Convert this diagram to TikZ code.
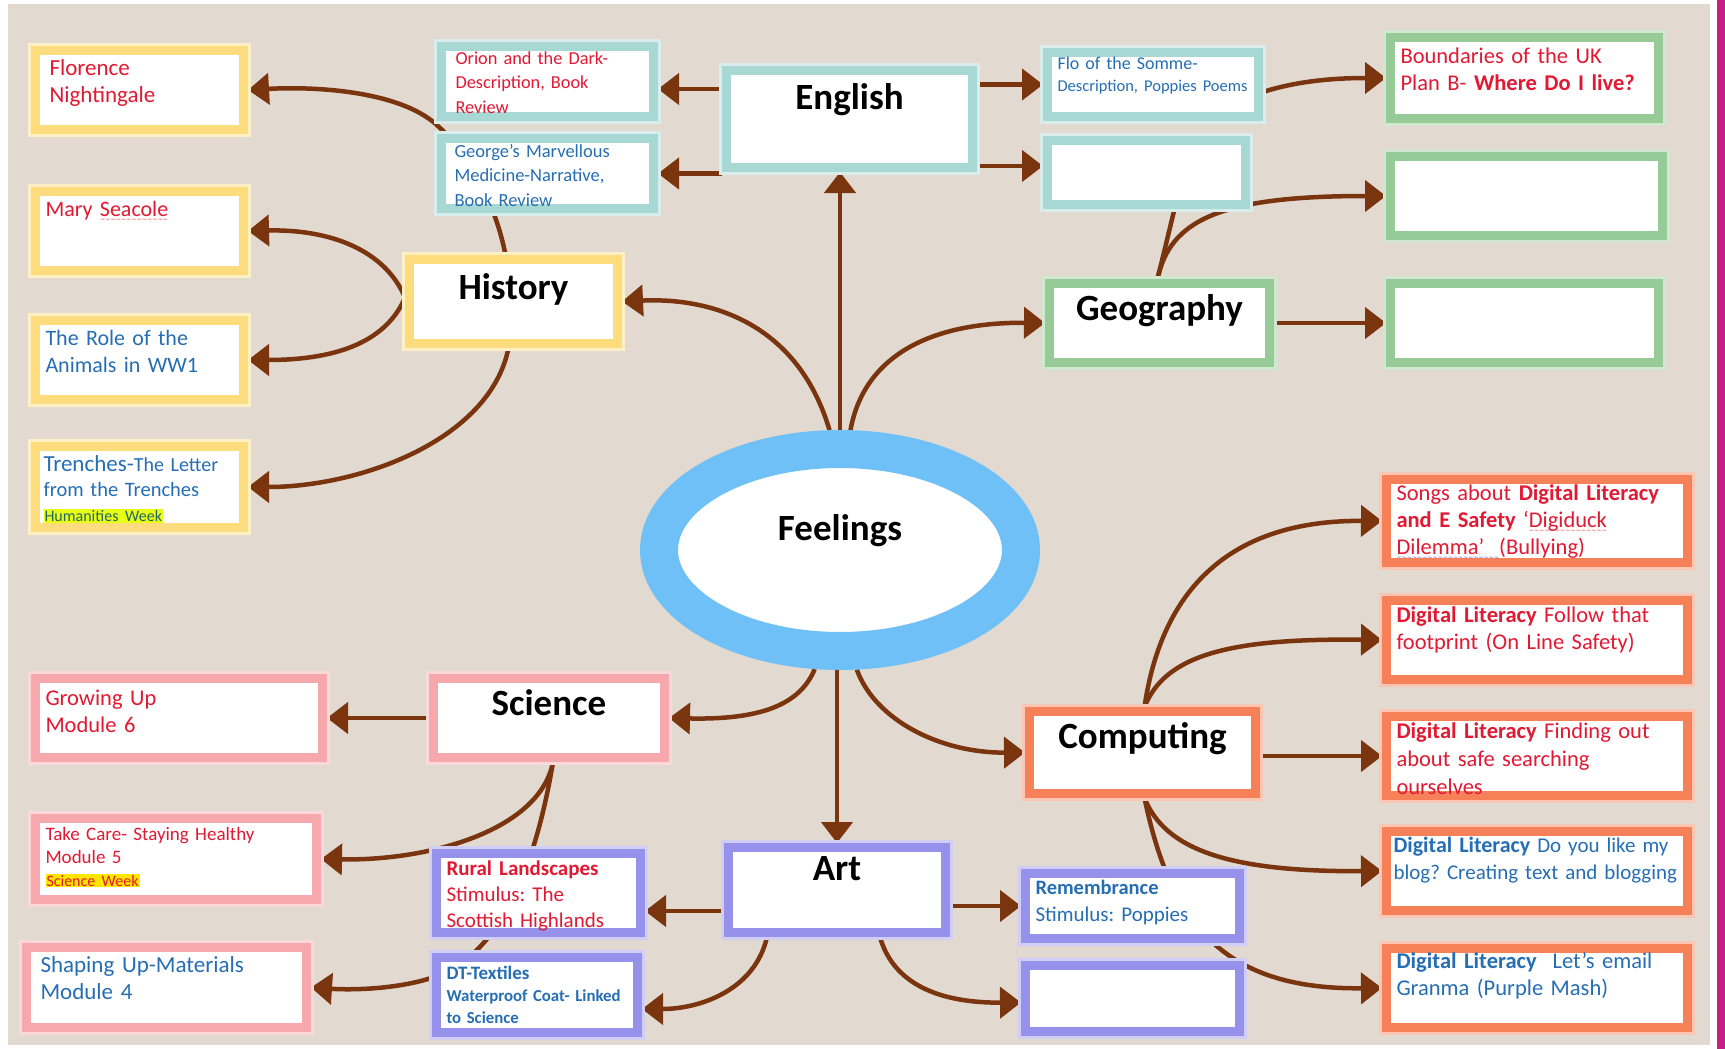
\documentclass[tikz,border=0pt]{standalone}
\usepackage{fontspec}
\setmainfont{Carlito}
\newfontfamily\wavefont{DejaVu Sans}
\usepackage{tikz}
\usetikzlibrary{arrows.meta, calc, positioning, shapes.geometric, backgrounds}
\definecolor{paper}{RGB}{226,218,208}
\definecolor{sidebar}{RGB}{200,30,130}
\definecolor{histyellow}{RGB}{252,220,125}
\definecolor{engteal}{RGB}{168,216,212}
\definecolor{geogreen}{RGB}{150,202,150}
\definecolor{scipink}{RGB}{246,168,172}
\definecolor{artpurple}{RGB}{150,146,236}
\definecolor{comporange}{RGB}{246,128,88}
\definecolor{ringblue}{RGB}{110,192,246}
\definecolor{arrowbrown}{RGB}{122,52,14}
\definecolor{redtxt}{RGB}{225,25,50}
\definecolor{bluetxt}{RGB}{38,110,180}
\definecolor{hitext}{RGB}{35,100,110}
\definecolor{hilime}{RGB}{232,255,20}
\definecolor{hiyellow}{RGB}{255,230,0}
\definecolor{spellred}{RGB}{230,40,40}
\definecolor{spellblue}{RGB}{80,80,200}
\setlength{\fboxsep}{1pt}
\frenchspacing
\hyphenpenalty=10000
\newsavebox{\wavebox}
\newcommand{\spellwave}[2]{\mbox{\sbox{\wavebox}{#2}\rlap{\smash{\textcolor{#1}{\raisebox{-4.5pt}{\hbox to \wd\wavebox{\wavefont\fontsize{6}{6}\selectfont\xleaders\hbox{\char"7E}\hfil}}}}}\usebox{\wavebox}}}
\tikzstyle{leaf} = [rectangle, fill=white, line width=9pt, inner xsep=10pt, inner ysep=5pt, align=left]
\tikzstyle{topic} = [rectangle, fill=white, line width=9pt, inner xsep=7pt, inner ysep=5pt, align=center, font=\fontsize{37}{42}\selectfont\bfseries]
\tikzstyle{arrow} = [line width=4.5pt, draw=arrowbrown, -{Triangle[length=21pt, width=31pt]}]
\tikzstyle{link} = [line width=4.5pt, draw=arrowbrown]
\tikzset{rim/.style={draw=#1, preaction={draw=#1!45, line width=15pt}}}

\begin{document}
\begin{tikzpicture}[x=1pt, y=-1pt]
	\useasboundingbox (0,0) rectangle (1725,1049);
	\node (Feelings) [ellipse, draw=ringblue, line width=38pt, fill=white, minimum width=362pt, minimum height=202pt, inner sep=0pt, font=\fontsize{37}{42}\selectfont\bfseries, text height=26pt, text depth=46pt] at (840,550) {Feelings};
	% History
	\node (History) [topic, rim=histyellow, text width=194pt, text height=34.5pt, text depth=39.5pt] at (513.5,301.5) {History};
	\node (Florence) [leaf, rim=histyellow, text=redtxt, font=\fontsize{23}{27}\selectfont, inner xsep=14pt, text width=180pt, text height=20pt, text depth=49pt] at (139.5,90) {Florence\\Nightingale};
	\node (Mary) [leaf, rim=histyellow, text=redtxt, font=\fontsize{22}{27}\selectfont, text width=188pt, text height=20pt, text depth=49pt] at (139.5,231) {Mary \spellwave{spellred}{Seacole}};
	\node (Role) [leaf, rim=histyellow, text=bluetxt, font=\fontsize{22}{27}\selectfont, text width=188pt, text height=20pt, text depth=49pt] at (139.5,360) {The Role of the\\Animals in WW1};
	\node (Trenches) [leaf, rim=histyellow, text=bluetxt, font=\fontsize{20}{25}\selectfont, inner xsep=8pt, text width=192pt, text height=20pt, text depth=51pt] at (139.5,487) {{\fontsize{23}{25}\selectfont Trenches-}The Letter\\{\fontsize{20.5}{25}\selectfont from the Trenches}\\{\fontsize{16}{25}\selectfont\color{hitext}\colorbox{hilime}{Humanities Week}}};
	% English
	\node (English) [topic, rim=engteal, text width=232pt, text height=34.5pt, text depth=52.5pt] at (849.5,119) {English};
	\node (Orion) [leaf, rim=engteal, text=redtxt, font=\fontsize{18.3}{24.5}\selectfont, inner xsep=14pt, text width=184pt, text height=13pt, text depth=47pt] at (547.5,81.5) {Orion and the Dark-\\Description, Book\\Review};
	\node (George) [leaf, rim=engteal, text=bluetxt, font=\fontsize{18.5}{24.5}\selectfont, inner xsep=13pt, text width=186pt, text height=13.5pt, text depth=46.5pt] at (547.5,173.5) {George's Marvellous\\Medicine-Narrative,\\Book Review};
	\node (Flo) [leaf, rim=engteal, text=bluetxt, font=\fontsize{18}{22}\selectfont, text width=191pt, text height=12pt, text depth=42pt] at (1153,84.5) {Flo of the Somme-\\{\fontsize{16.5}{22}\selectfont Description, Poppies Poems}};
	\node (TealBlank) [leaf, rim=engteal, minimum width=198pt, minimum height=64pt] at (1146.5,172.5) {};
	% Geography
	\node (Geography) [topic, rim=geogreen, text width=206pt, text height=31.5pt, text depth=37.5pt] at (1159.5,323) {Geography};
	\node (Boundaries) [leaf, rim=geogreen, text=redtxt, font=\fontsize{22.5}{27}\selectfont, text width=248pt, text height=21pt, text depth=50pt] at (1524.5,78) {Boundaries of the UK\\Plan B- \textbf{Where Do I live?}};
	\node (GreenMid) [leaf, rim=geogreen, minimum width=272pt, minimum height=79pt] at (1526.5,196) {};
	\node (GreenLow) [leaf, rim=geogreen, minimum width=268pt, minimum height=79pt] at (1524.5,323) {};
	% Computing
	\node (Computing) [topic, rim=comporange, text width=212pt, text height=31.5pt, text depth=40.5pt] at (1142.5,752.5) {Computing};
	\node (Songs) [leaf, rim=comporange, text=redtxt, font=\fontsize{22.5}{27}\selectfont, text width=281pt, text height=16pt, text depth=57pt] at (1537,521) {Songs about \textbf{Digital Literacy}\\\textbf{and E Safety} `\spellwave{spellred}{Digiduck}\\\spellwave{spellblue}{Dilemma'\ \ }(Bullying)};
	\node (Footprint) [leaf, rim=comporange, text=redtxt, font=\fontsize{22.5}{27}\selectfont, text width=281pt, text height=17pt, text depth=52pt] at (1537,640) {\textbf{Digital Literacy} Follow that\\footprint (On Line Safety)};
	\node (Searching) [leaf, rim=comporange, text=redtxt, font=\fontsize{22.5}{28}\selectfont, text width=281pt, text height=16.5pt, text depth=52.5pt] at (1537,756) {\textbf{Digital Literacy} Finding out\\about safe searching\\ourselves};
	\node (Blog) [leaf, rim=comporange, text=bluetxt, font=\fontsize{21}{27}\selectfont, inner xsep=7pt, text width=287pt, text height=16pt, text depth=53pt] at (1537,871) {{\fontsize{22}{27}\selectfont\bfseries Digital Literacy} Do you like my\\blog? Creating text and blogging};
	\node (Email) [leaf, rim=comporange, text=bluetxt, font=\fontsize{22.5}{27}\selectfont, text width=281pt, text height=14.5pt, text depth=54.5pt] at (1537,988) {\textbf{Digital Literacy}\hspace{16pt}Let's email\\Granma (Purple Mash)};
	% Science
	\node (Science) [topic, rim=scipink, text width=217pt, text height=31.5pt, text depth=37.5pt] at (549,718) {Science};
	\node (Growing) [leaf, rim=scipink, text=redtxt, font=\fontsize{22.5}{27}\selectfont, text width=267pt, text height=21.5pt, text depth=47.5pt] at (179,718) {Growing Up\\Module 6};
	\node (TakeCare) [leaf, rim=scipink, text=redtxt, font=\fontsize{19}{23}\selectfont, text width=261pt, text height=16.5pt, text depth=54.5pt] at (176,859) {Take Care- Staying Healthy\\Module 5\\{\fontsize{16}{23}\selectfont\colorbox{hiyellow}{Science Week}}};
	\node (Shaping) [leaf, rim=scipink, text=bluetxt, font=\fontsize{23}{27}\selectfont, inner xsep=14pt, text width=252pt, text height=19.5pt, text depth=50.5pt] at (166.5,987.5) {Shaping Up-Materials\\Module 4};
	% Art
	\node (Art) [topic, rim=artpurple, text width=203pt, text height=27.5pt, text depth=47.5pt] at (837,890) {Art};
	\node (Rural) [leaf, rim=artpurple, text=redtxt, font=\fontsize{21}{26}\selectfont, text width=184pt, text height=17pt, text depth=52pt] at (538.5,893) {\textbf{Rural Landscapes}\\Stimulus: The\\Scottish Highlands};
	\node (Textiles) [leaf, rim=artpurple, text=bluetxt, font=\fontsize{16.8}{22}\selectfont\bfseries, text width=181pt, text height=16.5pt, text depth=48.5pt] at (537,995) {{\fontsize{19}{22}\selectfont DT-Textiles}\\Waterproof Coat- Linked\\to Science};
	\node (Remembrance) [leaf, rim=artpurple, text=bluetxt, font=\fontsize{21}{27}\selectfont, text width=194pt, text height=15.5pt, text depth=39.5pt] at (1132.5,906) {{\fontsize{20.5}{27}\selectfont\bfseries Remembrance}\\Stimulus: Poppies};
	\node (PurpleBlank) [leaf, rim=artpurple, minimum width=214pt, minimum height=66pt] at (1132.5,998.5) {};

	\begin{scope}[on background layer]
		\fill[white] (0,0) rectangle (1725,1049);
		\fill[paper] (8,4) rectangle (1710,1045);
		\fill[sidebar] (1717,0) rectangle (1725,1049);
		\draw [arrow] (Feelings.north) -- (Feelings.north |- English.south);
		\draw [arrow] (Feelings.95) .. controls (800,330) and (720,297) .. (History.east);
		\draw [arrow] (Feelings.85) .. controls (865,350) and (940,322) .. (Geography.west);
		\draw [arrow] (Feelings.258) .. controls (800,705) and (760,720) .. (Science.east);
		\draw [arrow] (Art.north |- Feelings.south) -- (Art.north);
		\draw [arrow] (Feelings.278) .. controls (875,720) and (940,753) .. (Computing.west);
		\draw [arrow] (English.west |- 0,89) -- (Orion.east |- 0,89);
		\draw [arrow] (English.west |- George.east) -- (George.east);
		\draw [arrow] (English.east |- Flo.west) -- (Flo.west);
		\draw [arrow] (English.east |- 0,166) -- (TealBlank.west |- 0,166);
		\draw [arrow] (Flo.east |- 0,92) .. controls (1300,80) and (1340,78) .. (Boundaries.west);
		\draw [arrow] ($(History.north)+(-8,0)$) .. controls (495,200) and (465,150) .. (440,128) .. controls (405,92) and (320,86) .. (Florence.east);
		\draw [arrow] ($(History.west)+(0,-4)$) .. controls (385,250) and (330,229) .. (Mary.east);
		\draw [arrow] ($(History.west)+(0,-4)$) .. controls (385,345) and (330,360) .. (Role.east);
		\draw [arrow] ($(History.south)+(-5,0)$) .. controls (490,440) and (360,487) .. (Trenches.east);
		\draw [arrow] (Geography.east) -- (GreenLow.west);
		\draw [arrow] ($(Geography.north)+(-2,0)$) .. controls (1170,220) and (1220,196) .. (GreenMid.west);
		\draw [link] ($(Geography.north)+(-2,0)$) -- ($(TealBlank.south)+(28,0)$);
		\draw [arrow] (Science.west) -- (Growing.east);
		\draw [arrow] ($(Science.south)+(4,0)$) .. controls (540,830) and (430,861) .. (TakeCare.east);
		\draw [arrow] ($(Science.south)+(4,0)$) .. controls (535,870) and (500,950) .. (440,975) .. controls (400,990) and (350,990) .. (Shaping.east);
		\draw [arrow] ($(Art.west)+(0,21)$) -- ($(Rural.east)+(0,18)$);
		\draw [arrow] ($(Art.south)+(-70,0)$) .. controls (755,990) and (700,1009) .. ($(Textiles.east)+(0,14)$);
		\draw [arrow] (Art.east |- Remembrance.west) -- (Remembrance.west);
		\draw [arrow] ($(Art.south)+(43,0)$) .. controls (895,990) and (950,1003) .. ($(PurpleBlank.west)+(0,4)$);
		\draw [arrow] ($(Computing.north)+(2,0)$) .. controls (1160,600) and (1220,520) .. (Songs.west);
		\draw [arrow] ($(Computing.north)+(2,0)$) .. controls (1165,655) and (1230,638) .. (Footprint.west);
		\draw [arrow] (Computing.east |- Searching.west) -- (Searching.west);
		\draw [arrow] ($(Computing.south)+(2,0)$) .. controls (1165,850) and (1230,872) .. (Blog.west);
		\draw [arrow] ($(Computing.south)+(2,0)$) .. controls (1170,920) and (1220,990) .. (Email.west);
	\end{scope}
\end{tikzpicture}
\end{document}
